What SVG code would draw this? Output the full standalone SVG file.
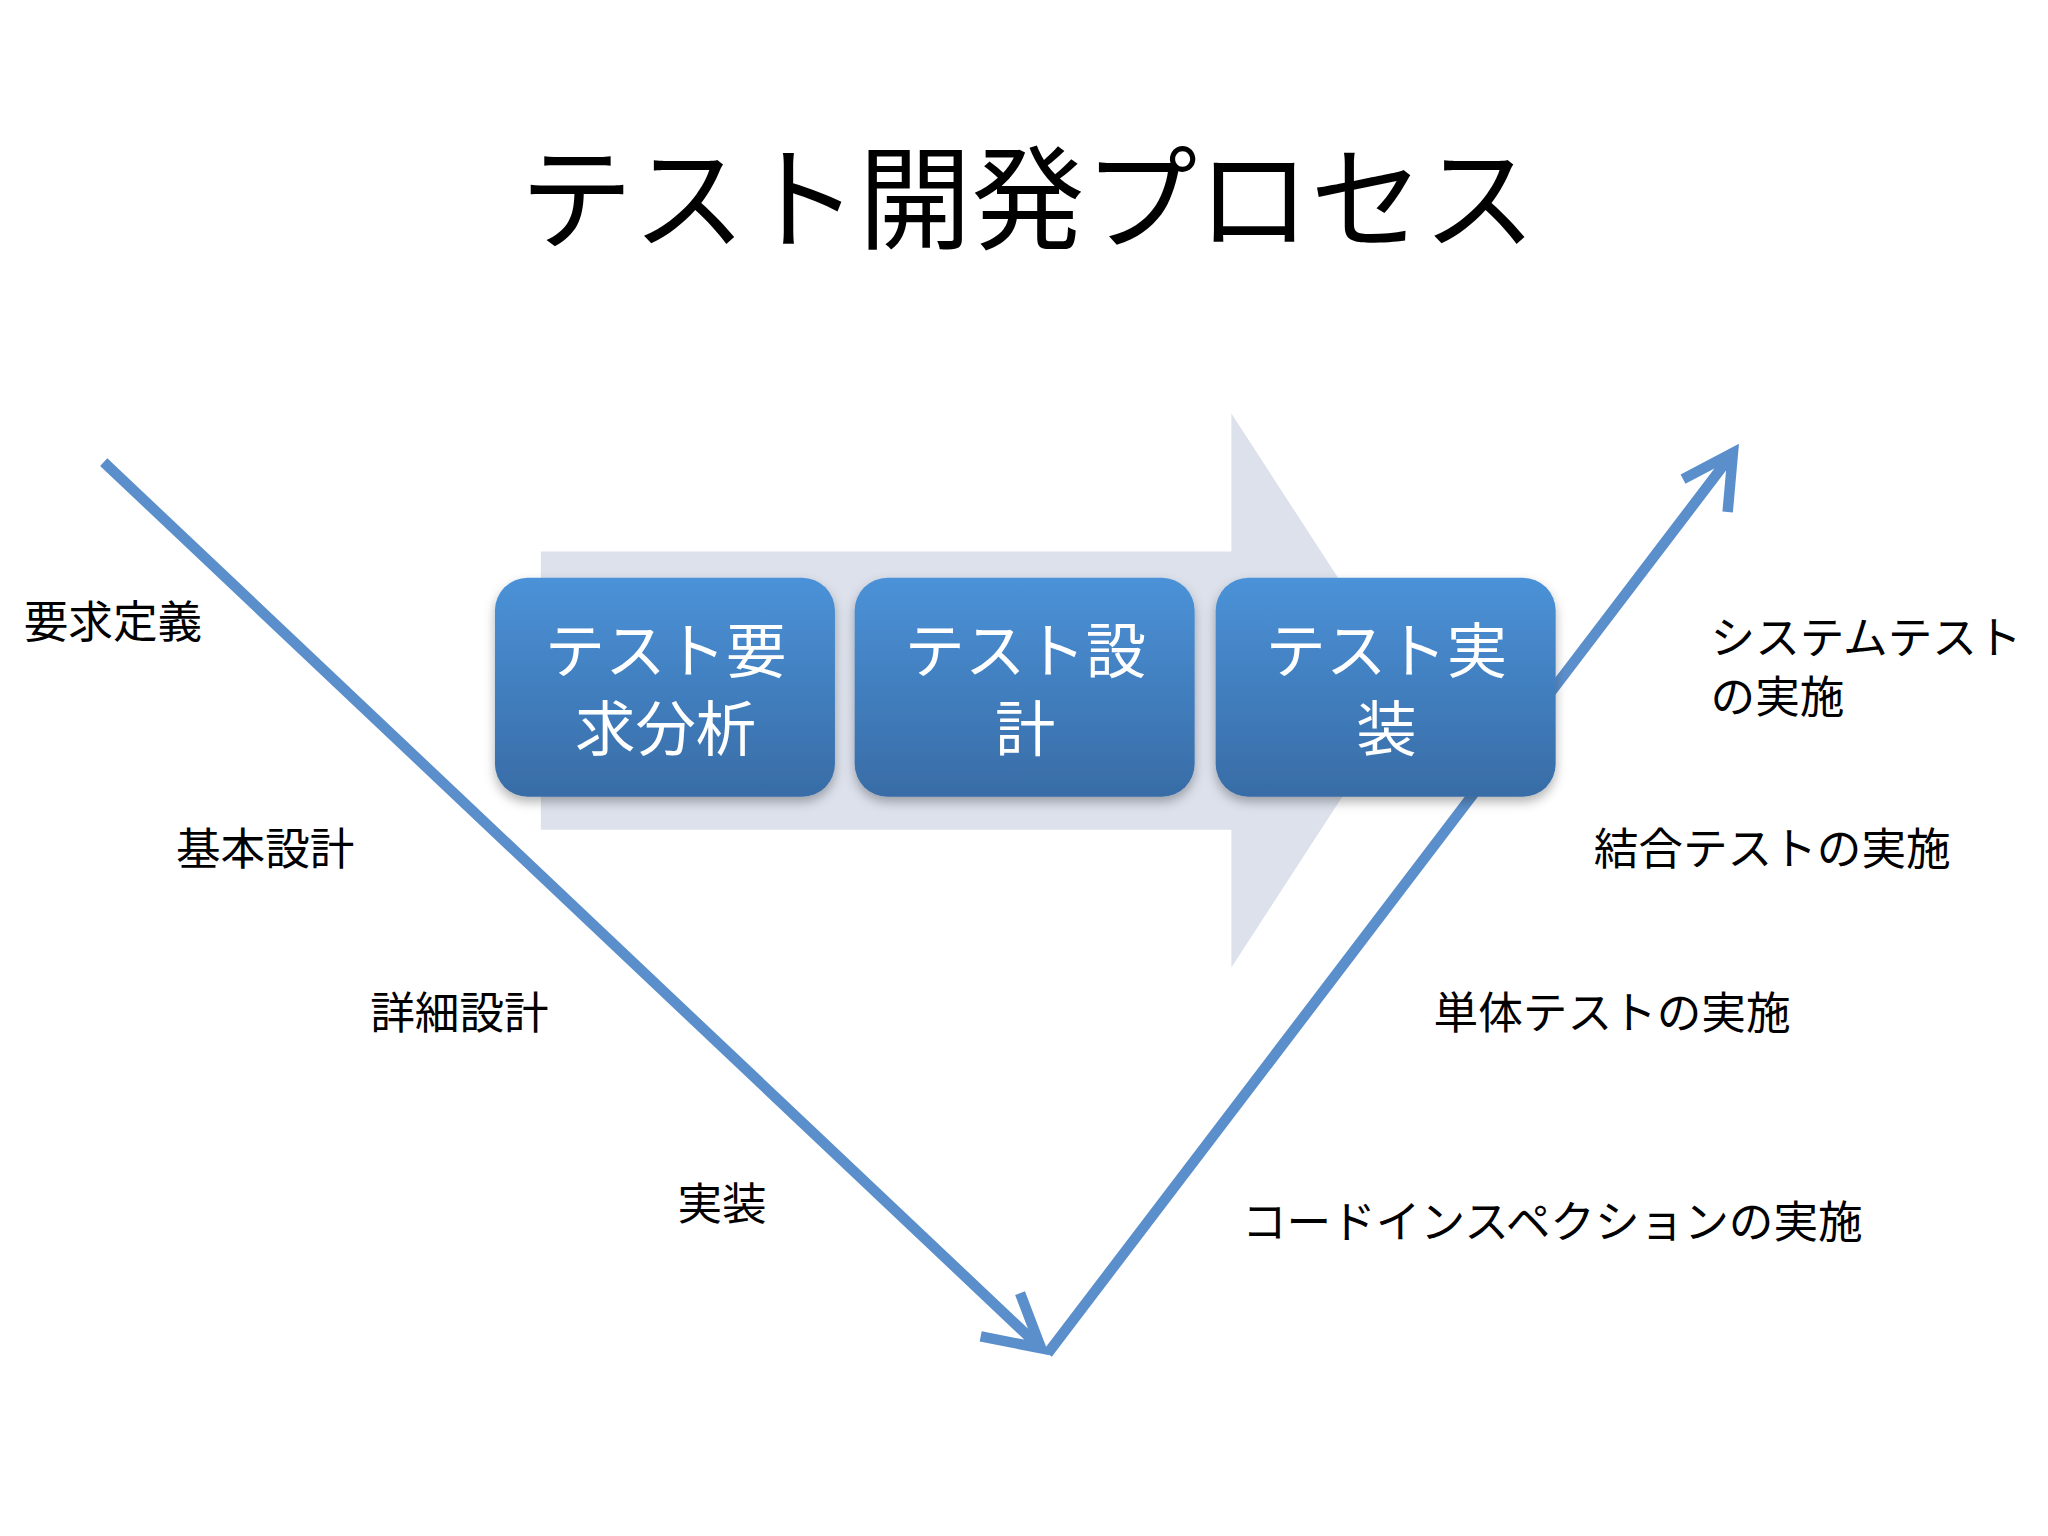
<svg xmlns="http://www.w3.org/2000/svg" width="2048" height="1536" viewBox="0 0 2048 1536">
<style>
text{font-family:"Noto Sans CJK JP","Noto Sans CJK SC",sans-serif;}
.lbl{font-size:34px;fill:#000;}
.bt{font-size:46px;fill:#fff;text-anchor:middle;}
.ln{stroke:#5b8fcc;stroke-width:8;fill:none;stroke-linecap:butt;}
</style>
<defs>
<linearGradient id="g" x1="0" y1="0" x2="0" y2="1">
<stop offset="0" stop-color="#4b92d8"/><stop offset="1" stop-color="#386ca6"/>
</linearGradient>
<filter id="sh" x="-10%" y="-10%" width="120%" height="130%"><feDropShadow dx="0" dy="4" stdDeviation="4" flood-color="#000" flood-opacity="0.3"/></filter>
</defs>
<rect width="2048" height="1536" fill="#fff"/>
<g transform="scale(1.3128)">
<text x="783" y="183" font-size="86" text-anchor="middle" fill="#000">テスト開発プロセス</text>
<g id="bigarrow"><polygon points="412,420 938,420 938,315 1075,526 938,737 938,632 412,632" fill="#dce1ec"/></g>
<g id="connectors">
<path class="ln" d="M79,352 L793,1027 M747,1018 L793,1027 L777,985"/>
<path class="ln" d="M798,1031 L1320,345 M1282,365 L1320,345 L1316,390"/>
</g>
<g id="box1"><rect x="377" y="440" width="259" height="167" rx="25" fill="url(#g)" filter="url(#sh)"/><text class="bt"><tspan x="507" y="513">テスト要</tspan><tspan x="507" y="572">求分析</tspan></text></g>
<g id="box2"><rect x="651" y="440" width="259" height="167" rx="25" fill="url(#g)" filter="url(#sh)"/><text class="bt"><tspan x="781" y="513">テスト設</tspan><tspan x="781" y="572">計</tspan></text></g>
<g id="box3"><rect x="926" y="440" width="259" height="167" rx="25" fill="url(#g)" filter="url(#sh)"/><text class="bt"><tspan x="1056" y="513">テスト実</tspan><tspan x="1056" y="572">装</tspan></text></g>
<g id="labels">
<text class="lbl" x="18" y="486">要求定義</text>
<text class="lbl" x="134" y="659">基本設計</text>
<text class="lbl" x="282" y="784">詳細設計</text>
<text class="lbl" x="516" y="929">実装</text>
<text class="lbl"><tspan x="1303" y="498">システムテスト</tspan><tspan x="1303" y="543">の実施</tspan></text>
<text class="lbl" x="1214" y="659">結合テストの実施</text>
<text class="lbl" x="1092" y="784">単体テストの実施</text>
<text class="lbl" x="946" y="943">コードインスペクションの実施</text>
</g>
</g>
</svg>
